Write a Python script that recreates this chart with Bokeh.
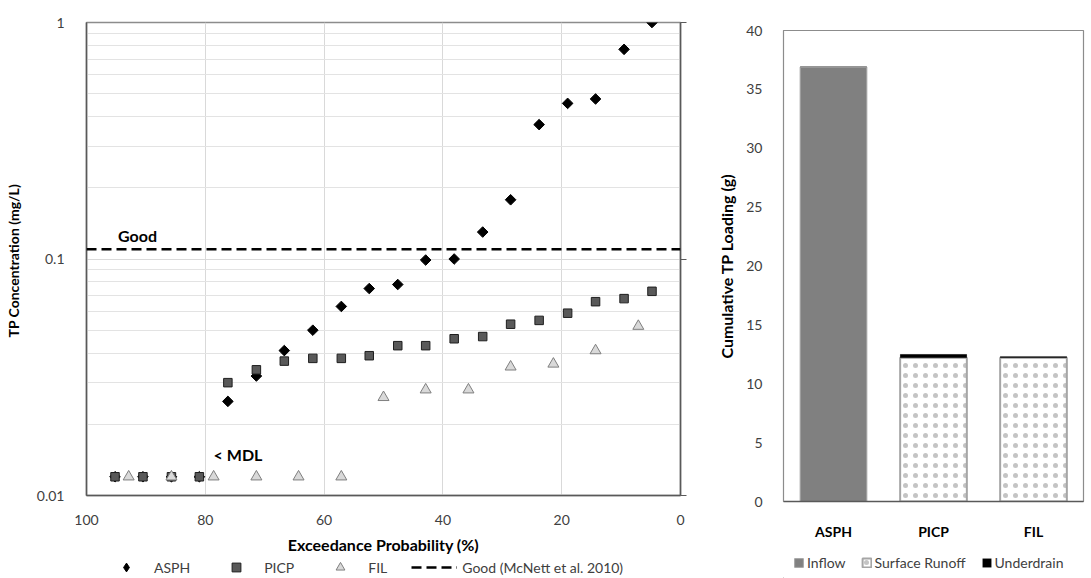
import math
from bokeh.plotting import figure
from bokeh.models import (Range1d, FactorRange, FixedTicker, LogAxis, Legend, LegendItem,
                          Span, Label, ColumnDataSource, CustomJSTickFormatter)
from bokeh.layouts import row, column
from bokeh.embed import file_html
from bokeh.resources import INLINE

FONT = "Lato"
AX = "#595959"
TICKC = "#404040"

# ---------------- Left chart data (exceedance probability) ----------------
asph_exc = [4.8, 9.5, 14.3, 19.0, 23.8, 28.6, 33.3, 38.1, 42.9, 47.6,
            52.4, 57.1, 61.9, 66.7, 71.4, 76.2, 81.0, 85.7, 90.5, 95.2]
asph_tp = [1.0, 0.77, 0.475, 0.455, 0.37, 0.178, 0.13, 0.1, 0.099, 0.078,
           0.075, 0.063, 0.050, 0.041, 0.032, 0.025, 0.012, 0.012, 0.012, 0.012]
picp_exc = [4.8, 9.5, 14.3, 19.0, 23.8, 28.6, 33.3, 38.1, 42.9, 47.6,
            52.4, 57.1, 61.9, 66.7, 71.4, 76.2, 81.0, 85.7, 90.5, 95.2]
picp_tp = [0.073, 0.068, 0.066, 0.059, 0.055, 0.053, 0.047, 0.046, 0.043, 0.043,
           0.039, 0.038, 0.038, 0.037, 0.034, 0.030, 0.012, 0.012, 0.012, 0.012]
fil_exc = [7.1, 14.3, 21.4, 28.6, 35.7, 42.9, 50.0, 57.1, 64.3, 71.4, 78.6, 85.7, 92.9]
fil_tp = [0.052, 0.041, 0.036, 0.035, 0.028, 0.028, 0.026,
          0.012, 0.012, 0.012, 0.012, 0.012, 0.012]
good_tp = 0.11
x_ticks = [0, 20, 40, 60, 80, 100]
y_ticks = [0.01, 0.1, 1]
y_minor = [0.02, 0.03, 0.04, 0.05, 0.06, 0.07, 0.08, 0.09,
           0.2, 0.3, 0.4, 0.5, 0.6, 0.7, 0.8, 0.9]
series_names = ["ASPH", "PICP", "FIL", "Good (McNett et al. 2010)"]

# ---------------- Right chart data (cumulative loading) ----------------
categories = ["ASPH", "PICP", "FIL"]
inflow = [36.9, 0.0, 0.0]
surface_runoff = [0.0, 12.2, 12.2]
underdrain = [0.0, 0.3, 0.12]
load_ticks = [0, 5, 10, 15, 20, 25, 30, 35, 40]
load_names = ["Inflow", "Surface Runoff", "Underdrain"]

# styles
ASPH_STYLE = dict(marker="square", angle=math.pi / 4, size=7.5, fill_color="black", line_color="black")
PICP_STYLE = dict(marker="square", size=8.5, fill_color="#595959", line_color="#1f1f1f")
FIL_STYLE = dict(marker="triangle", size=11, fill_color="#d9d9d9", line_color="#7f7f7f")
GOOD_STYLE = dict(line_color="black", line_width=2.5, line_dash="10 5")
BAR_FILL = ["#808080", "white", "black"]
BAR_LINE = ["#a6a6a6", "#a6a6a6", "black"]
BAR_LW = [1, 2, 0.1]
BAR_HATCH = ["blank", "dot", "blank"]
HATCH = dict(hatch_color="#c4c4c4", hatch_scale=10, hatch_weight=0.6)


def legend_fig(width, height):
    # a strip that only holds a legend; its ranges keep the proxy glyphs out of view
    f = figure(width=width, height=height, x_range=Range1d(1000, 1001), y_range=Range1d(1000, 1001),
               output_backend="svg", toolbar_location=None, min_border=0,
               x_axis_location=None, y_axis_location=None, outline_line_color=None)
    f.grid.visible = False
    return f


# ======================= Left figure =======================
p1 = figure(width=700, height=556, x_range=Range1d(100, 0), y_range=Range1d(0.01, 1),
            y_axis_type="log", output_backend="svg", toolbar_location=None,
            min_border_left=86, min_border_right=20, min_border_top=22, min_border_bottom=59,
            outline_line_color="#8c8c8c", outline_line_width=1.5)

p1.xaxis.ticker = FixedTicker(ticks=x_ticks)
p1.yaxis.ticker = FixedTicker(ticks=y_ticks, minor_ticks=y_minor)
p1.yaxis.formatter = CustomJSTickFormatter(code="return String(tick)")
for ax in (p1.xaxis, p1.yaxis):
    ax.major_tick_line_color = None
    ax.minor_tick_line_color = None
    ax.axis_line_color = AX
    ax.axis_line_width = 1.5
    ax.major_label_text_font = FONT
    ax.major_label_text_font_size = "14px"
    ax.major_label_text_color = TICKC
    ax.axis_label_text_font = FONT
    ax.axis_label_text_font_style = "bold"
    ax.axis_label_text_color = "black"
p1.xaxis.axis_label_text_font_size = "16px"
p1.yaxis.axis_label_text_font_size = "14px"
p1.xaxis.axis_label = "Exceedance Probability (%)"
p1.yaxis.axis_label = "TP  Concentration (mg/L)"
p1.xaxis.major_label_standoff = 13
p1.xaxis.axis_label_standoff = 7
p1.yaxis.major_label_standoff = 16
p1.yaxis.axis_label_standoff = 12

p1.xgrid.grid_line_color = "#d9d9d9"
p1.ygrid.grid_line_color = "#d9d9d9"
p1.ygrid.minor_grid_line_color = "#e3e3e3"

raxis = LogAxis(ticker=FixedTicker(ticks=y_ticks),
                formatter=CustomJSTickFormatter(code="return ''"),
                major_label_standoff=0, major_tick_in=0, major_tick_out=6,
                minor_tick_line_color=None, axis_line_color=AX, axis_line_width=1.5,
                major_tick_line_color=AX)
p1.add_layout(raxis, "right")

p1.scatter(asph_exc, asph_tp, **ASPH_STYLE)
p1.scatter(picp_exc, picp_tp, **PICP_STYLE)
p1.scatter(fil_exc, fil_tp, **FIL_STYLE)
p1.add_layout(Span(location=good_tp, dimension="width", **GOOD_STYLE))

p1.add_layout(Label(x=94.7, y=0.126, text="Good", text_font=FONT, text_font_style="bold",
                    text_font_size="16px", text_baseline="middle", text_color="black"))
p1.add_layout(Label(x=78.6, y=0.0149, text="< MDL", text_font=FONT, text_font_style="bold",
                    text_font_size="16px", text_baseline="middle", text_color="black"))

# legend strip for left chart (proxy glyphs use the same data, kept out of view)
lg1 = legend_fig(700, 22)
d_a = lg1.scatter(asph_exc, asph_tp, marker="diamond", fill_color="black", line_color="black")
d_p = lg1.scatter(picp_exc, picp_tp, **PICP_STYLE)
d_f = lg1.scatter(fil_exc, fil_tp, **FIL_STYLE)
d_g = lg1.line(x_ticks, [good_tp] * len(x_ticks), **GOOD_STYLE)
leg1 = Legend(items=[LegendItem(label=n, renderers=[r]) for n, r in zip(series_names, [d_a, d_p, d_f, d_g])],
              orientation="horizontal", location=(17, 0), glyph_width=46, glyph_height=22,
              label_standoff=5, spacing=23, padding=0, margin=0, border_line_color=None,
              background_fill_alpha=0, label_text_font=FONT, label_text_font_size="14px",
              label_text_color=TICKC)
lg1.add_layout(leg1)

# ======================= Right figure =======================
p2 = figure(width=391, height=548, x_range=FactorRange(factors=categories),
            y_range=Range1d(0, 40), output_backend="svg", toolbar_location=None,
            min_border_left=83, min_border_right=8, min_border_top=30, min_border_bottom=47,
            outline_line_color="#8c8c8c", outline_line_width=1.2)
p2.xgrid.grid_line_color = None
p2.ygrid.grid_line_color = None

src = ColumnDataSource(dict(cat=categories, Inflow=inflow, Surface=surface_runoff, Under=underdrain))
rs = p2.vbar_stack(["Inflow", "Surface", "Under"], x="cat", width=0.667, source=src,
                   fill_color=BAR_FILL, line_color=BAR_LINE, line_width=BAR_LW,
                   hatch_pattern=BAR_HATCH, **HATCH)

p2.yaxis.ticker = FixedTicker(ticks=load_ticks)
for ax in (p2.xaxis, p2.yaxis):
    ax.major_tick_line_color = None
    ax.minor_tick_line_color = None
    ax.major_label_text_font = FONT
    ax.major_label_text_font_size = "14px"
    ax.major_label_text_color = TICKC
    ax.axis_label_text_font = FONT
    ax.axis_label_text_font_style = "bold"
    ax.axis_label_text_font_size = "16px"
    ax.axis_label_text_color = "black"
p2.yaxis.axis_line_color = "#8c8c8c"
p2.xaxis.axis_line_color = AX
p2.xaxis.axis_line_width = 1.5
p2.xaxis.major_label_text_font_style = "bold"
p2.xaxis.major_label_text_color = "black"
p2.xaxis.major_label_standoff = 15
p2.yaxis.axis_label = "Cumulative TP Loading (g)"
p2.yaxis.major_label_standoff = 15
p2.yaxis.axis_label_standoff = 7

# legend strip for right chart (proxy bars use the same values, kept out of view)
lg2 = legend_fig(391, 30)
series_vals = [inflow, surface_runoff, underdrain]
d_bars = [lg2.vbar(x=list(range(len(categories))), top=series_vals[i], width=0.5,
                   fill_color=BAR_FILL[i], line_color=BAR_LINE[i],
                   line_width=BAR_LW[i], hatch_pattern=BAR_HATCH[i], **HATCH) for i in range(3)]
leg2 = Legend(items=[LegendItem(label=n, renderers=[r]) for n, r in zip(load_names, d_bars)],
              orientation="horizontal", location=(10, 7), glyph_width=11, glyph_height=11,
              label_standoff=3, spacing=15, padding=0, margin=0, border_line_color=None,
              background_fill_alpha=0, label_text_font=FONT, label_text_font_size="14px",
              label_text_color=TICKC)
lg2.add_layout(leg2)

layout = row(column(p1, lg1), column(p2, lg2))
open("out.html", "w").write(file_html(layout, INLINE))
